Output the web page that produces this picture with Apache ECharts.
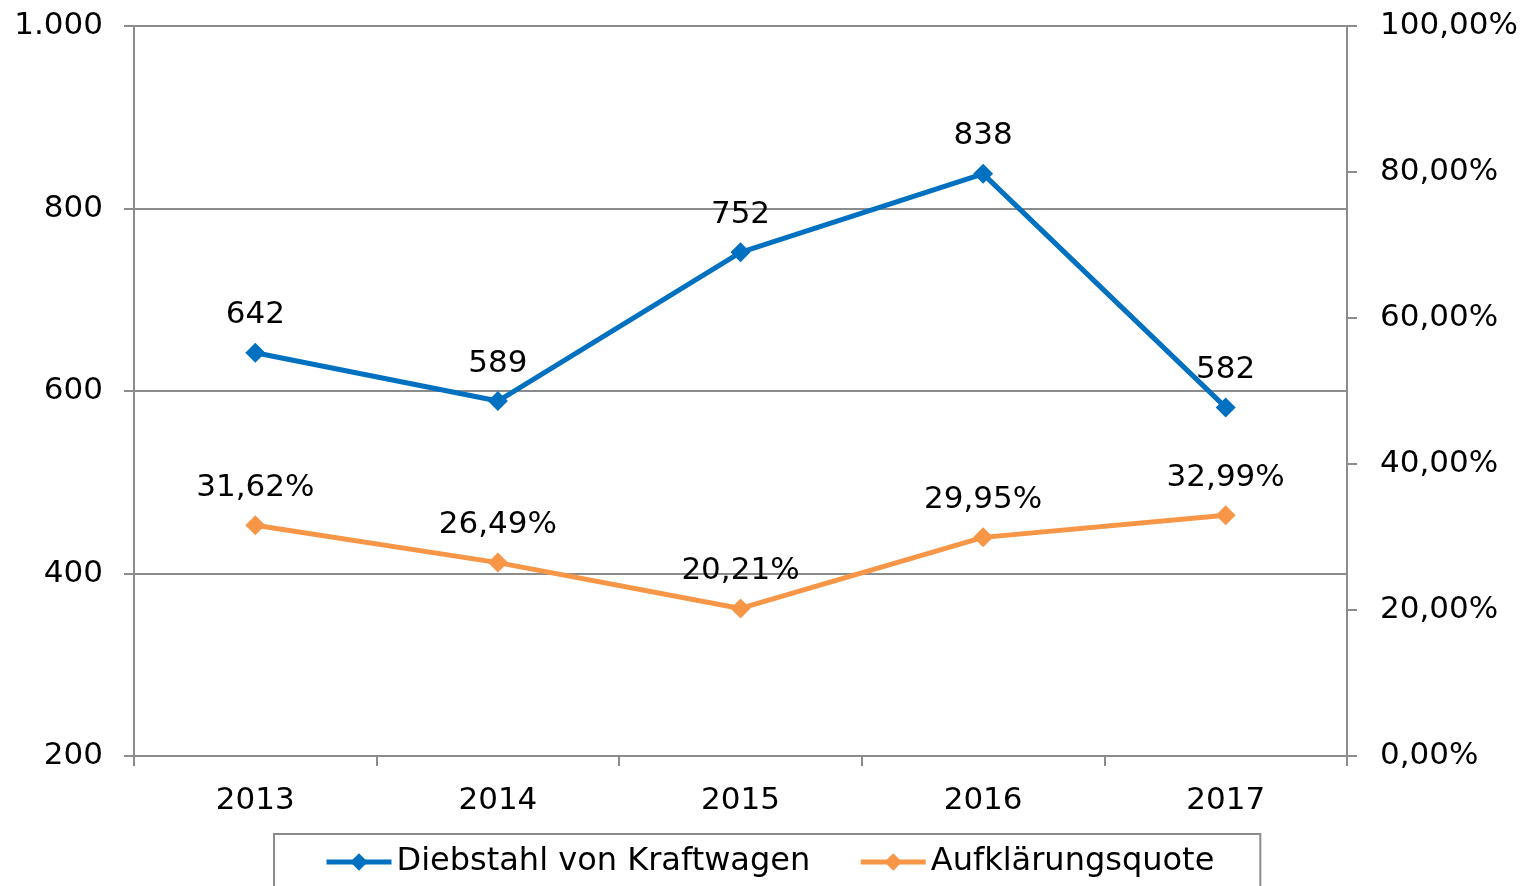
<!DOCTYPE html>
<html>
<head>
<meta charset="utf-8">
<script src="https://cdn.jsdelivr.net/npm/echarts@6/dist/echarts.min.js"></script>
<style>
  html, body { margin: 0; padding: 0; background: #fff; }
  #chart { width: 1526px; height: 886px; }
</style>
</head>
<body>
<div id="chart"></div>
<script>
const years = ['2013', '2014', '2015', '2016', '2017'];
const diebstahl = [642, 589, 752, 838, 582];
const quote = [0.3162, 0.2649, 0.2021, 0.2995, 0.3299];

const FONT = 'DejaVu Sans';
const BLUE = '#0070C0';
const ORANGE = '#F79646';
const GRAY = '#8C8C8C';
const FS = 31;

const fmtPct = (v) => (v * 100).toFixed(2).replace('.', ',') + '%';
const fmtNum = (v) => String(v).replace(/\B(?=(\d{3})+(?!\d))/g, '.');

const chart = echarts.init(document.getElementById('chart'));
chart.setOption({
  animation: false,
  textStyle: { fontFamily: FONT, color: '#000' },
  grid: { left: 134, right: 179, top: 26, bottom: 130 },
  legend: {
    left: 274,
    top: 834,
    padding: [12, 46, 40, 50],
    itemGap: 48,
    itemWidth: 65,
    itemHeight: 22,
    borderColor: GRAY,
    borderWidth: 2,
    borderRadius: 0,
    lineStyle: { width: 5 },
    textStyle: { fontFamily: FONT, fontSize: 32, color: '#000' },
    data: ['Diebstahl von Kraftwagen', 'Aufklärungsquote'],
  },
  xAxis: {
    type: 'category',
    data: years,
    boundaryGap: true,
    axisLine: { lineStyle: { color: GRAY, width: 2 } },
    axisTick: { show: true, length: 10, lineStyle: { color: GRAY, width: 2 } },
    axisLabel: { fontSize: FS, color: '#000', margin: 29, fontFamily: FONT },
  },
  yAxis: [
    {
      type: 'value',
      min: 200,
      max: 1000,
      interval: 200,
      position: 'left',
      axisLine: { show: true, lineStyle: { color: GRAY, width: 2 } },
      axisTick: { show: true, length: 10, lineStyle: { color: GRAY, width: 2 } },
      splitLine: { show: true, lineStyle: { color: GRAY, width: 2 } },
      axisLabel: { fontSize: FS, color: '#000', margin: 31, fontFamily: FONT, formatter: fmtNum },
    },
    {
      type: 'value',
      min: 0,
      max: 1,
      interval: 0.2,
      position: 'right',
      axisLine: { show: true, lineStyle: { color: GRAY, width: 2 } },
      axisTick: { show: true, length: 10, lineStyle: { color: GRAY, width: 2 } },
      splitLine: { show: false },
      axisLabel: { fontSize: FS, color: '#000', margin: 33, fontFamily: FONT, formatter: fmtPct },
    },
  ],
  series: [
    {
      name: 'Diebstahl von Kraftwagen',
      type: 'line',
      yAxisIndex: 0,
      data: diebstahl,
      symbol: 'diamond',
      symbolSize: 20,
      lineStyle: { color: BLUE, width: 5 },
      itemStyle: { color: BLUE },
      label: {
        show: true,
        position: 'top',
        distance: 12,
        fontSize: FS,
        color: '#000',
        fontFamily: FONT,
      },
    },
    {
      name: 'Aufklärungsquote',
      type: 'line',
      yAxisIndex: 1,
      data: quote,
      symbol: 'diamond',
      symbolSize: 20,
      lineStyle: { color: ORANGE, width: 5 },
      itemStyle: { color: ORANGE },
      label: {
        show: true,
        position: 'top',
        distance: 12,
        fontSize: FS,
        color: '#000',
        fontFamily: FONT,
        formatter: (p) => fmtPct(p.value),
      },
    },
  ],
});
</script>
</body>
</html>
